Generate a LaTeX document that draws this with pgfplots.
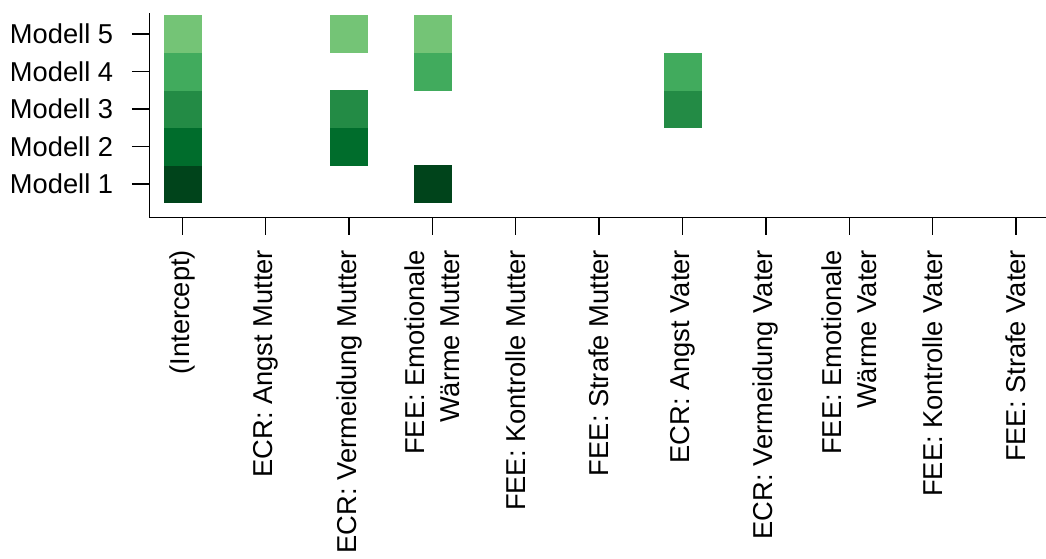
\documentclass[border=0pt]{standalone}
\usepackage{fontspec}
\setmainfont{Liberation Sans}
\usepackage{pgfplots}
\pgfplotsset{compat=1.18}
\definecolor{g1}{HTML}{00441B}
\definecolor{g2}{HTML}{006D2C}
\definecolor{g3}{HTML}{238B45}
\definecolor{g4}{HTML}{41AB5D}
\definecolor{g5}{HTML}{74C476}
\begin{document}
\begin{tikzpicture}[x=1pt,y=1pt]
\path[use as bounding box] (0,0) rectangle (1046,558);
\begin{axis}[
  at={(149.3pt,340.7pt)}, anchor=south west,
  scale only axis, width=896.7pt, height=204.3pt,
  xmin=0.604, xmax=11.36, ymin=0.112, ymax=5.56,
  axis x line*=bottom, axis y line*=left,
  axis line style={-, black, line width=1.4pt},
  tick style={black, line width=1.4pt},
  tick align=outside, major tick length=17.5pt,
  xtick={1,...,11}, ytick={1,...,5},
  yticklabels={Modell 1,Modell 2,Modell 3,Modell 4,Modell 5},
  xticklabels={(Intercept),ECR: Angst Mutter,ECR: Vermeidung Mutter,{FEE: Emotionale\\Wärme Mutter},FEE: Kontrolle Mutter,FEE: Strafe Mutter,ECR: Angst Vater,ECR: Vermeidung Vater,{FEE: Emotionale\\Wärme Vater},FEE: Kontrolle Vater,FEE: Strafe Vater},
  tick label style={font=\fontsize{27.3}{35}\selectfont, text=black},
  xticklabel style={rotate=90, anchor=east, align=right, inner xsep=15pt, inner ysep=0pt},
  yticklabel style={anchor=east, inner xsep=18.5pt, inner ysep=0pt},
]
\addplot[only marks, mark=square*, mark size=18.6pt, color=g1] coordinates {(1,1)(4,1)};
\addplot[only marks, mark=square*, mark size=18.6pt, color=g2] coordinates {(1,2)(3,2)};
\addplot[only marks, mark=square*, mark size=18.6pt, color=g3] coordinates {(1,3)(3,3)(7,3)};
\addplot[only marks, mark=square*, mark size=18.6pt, color=g4] coordinates {(1,4)(4,4)(7,4)};
\addplot[only marks, mark=square*, mark size=18.6pt, color=g5] coordinates {(1,5)(3,5)(4,5)};
\end{axis}
\end{tikzpicture}
\end{document}
